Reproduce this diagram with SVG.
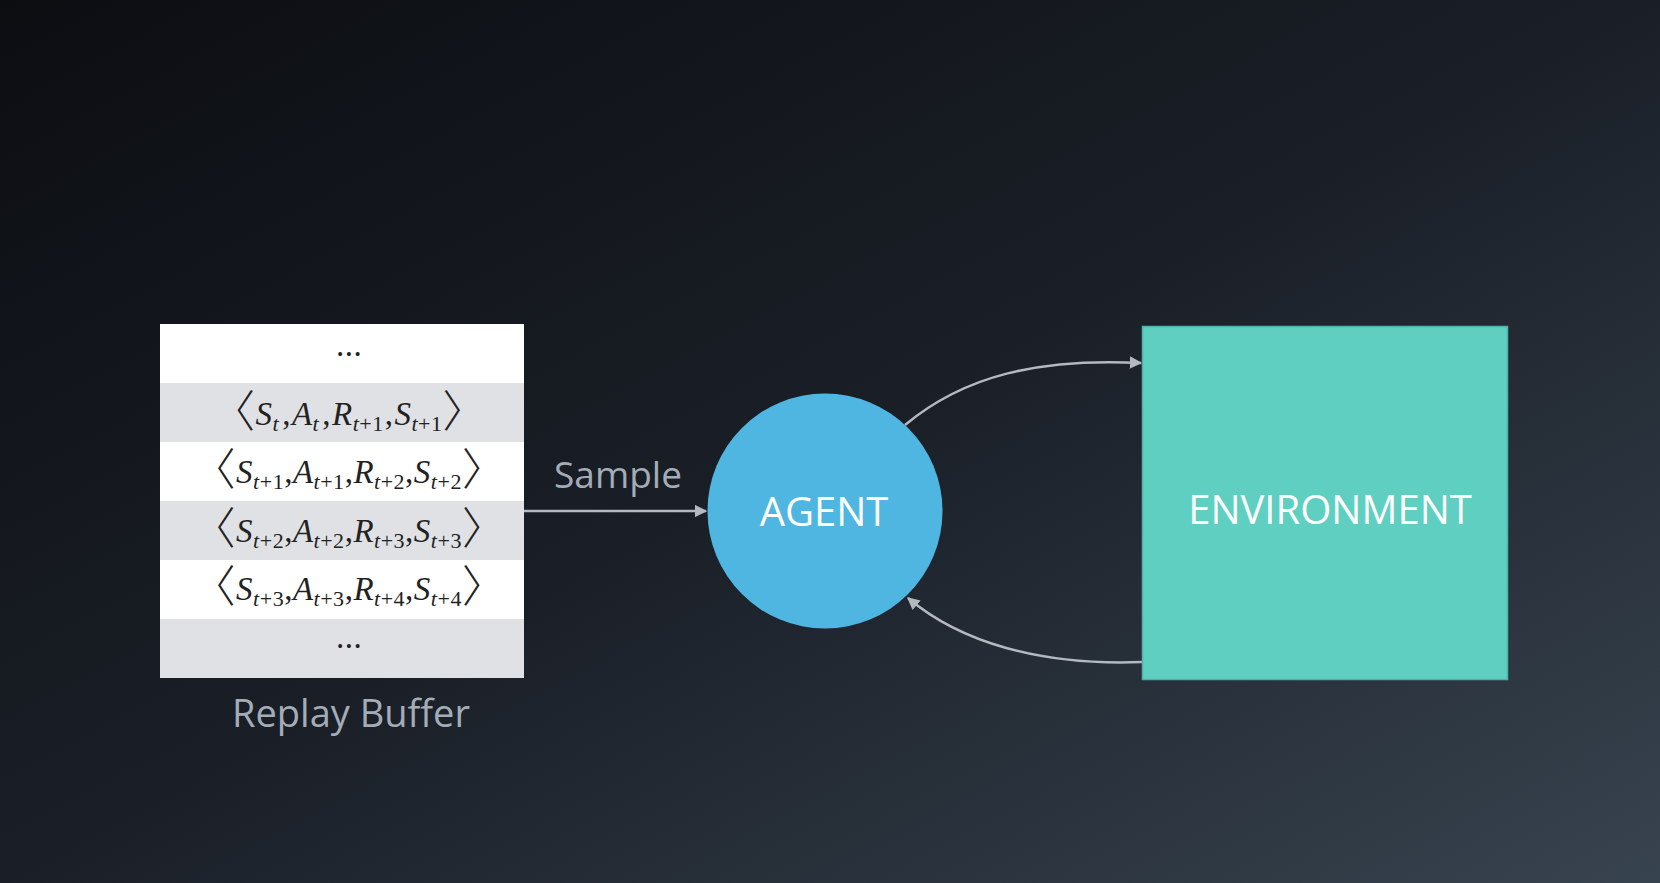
<svg xmlns="http://www.w3.org/2000/svg" width="1660" height="883" viewBox="0 0 1660 883">
<defs>
<linearGradient id="bg" x1="0" y1="0" x2="1" y2="1">
<stop offset="0" stop-color="#0b0d11"/>
<stop offset="0.5" stop-color="#1a1f27"/>
<stop offset="1" stop-color="#37434f"/>
</linearGradient>
<marker id="ah" viewBox="0 0 10 10" refX="9" refY="5" markerWidth="5" markerHeight="5" orient="auto" markerUnits="strokeWidth">
<path d="M0,0 L10,5 L0,10 z" fill="#b4b8bf"/>
</marker>
<style>
.lbl{font-family:"Open Sans","Liberation Sans",sans-serif;fill:#a3acb7}
.wt{font-family:"Open Sans","Liberation Sans",sans-serif;fill:#ffffff}
.m{font-family:"Liberation Serif","DejaVu Serif",serif;font-size:33px;fill:#222;letter-spacing:0.5px}
.bc{font-family:"Noto Sans CJK JP",sans-serif;font-weight:300;font-size:44px;fill:#222}
.i{font-style:italic}
.sub{font-size:22px}
.conn{fill:none;stroke:#b4b8bf;stroke-width:2.5}
</style>
</defs>
<rect width="1660" height="883" fill="url(#bg)"/>
<g id="replay-buffer">
<rect x="160" y="324" width="364" height="59" fill="#ffffff"/>
<rect x="160" y="383" width="364" height="59" fill="#dfe1e5"/>
<rect x="160" y="442" width="364" height="59" fill="#ffffff"/>
<rect x="160" y="501" width="364" height="59" fill="#dfe1e5"/>
<rect x="160" y="560" width="364" height="59" fill="#ffffff"/>
<rect x="160" y="619" width="364" height="59" fill="#dfe1e5"/>
<text class="m" x="349" y="356" text-anchor="middle">...</text>
<text class="m" x="349" y="425" text-anchor="middle"><tspan class="bc" dy="2">〈</tspan><tspan class="i" dy="-2">S</tspan><tspan class="sub i" dy="6">t</tspan><tspan dy="-6" dx="3">,</tspan><tspan class="i" dx="1">A</tspan><tspan class="sub i" dy="6">t</tspan><tspan dy="-6" dx="3">,</tspan><tspan class="i" dx="1">R</tspan><tspan class="sub" dy="6"><tspan class="i">t</tspan>+1</tspan><tspan dy="-6" dx="1">,</tspan><tspan class="i" dx="1">S</tspan><tspan class="sub" dy="6"><tspan class="i">t</tspan>+1</tspan><tspan class="bc" dy="-4">〉</tspan></text>
<text class="m" x="349" y="483" text-anchor="middle"><tspan class="bc" dy="2">〈</tspan><tspan class="i" dy="-2">S</tspan><tspan class="sub" dy="6"><tspan class="i">t</tspan>+1</tspan><tspan dy="-6">,</tspan><tspan class="i">A</tspan><tspan class="sub" dy="6"><tspan class="i">t</tspan>+1</tspan><tspan dy="-6">,</tspan><tspan class="i">R</tspan><tspan class="sub" dy="6"><tspan class="i">t</tspan>+2</tspan><tspan dy="-6">,</tspan><tspan class="i">S</tspan><tspan class="sub" dy="6"><tspan class="i">t</tspan>+2</tspan><tspan class="bc" dy="-4">〉</tspan></text>
<text class="m" x="349" y="542" text-anchor="middle"><tspan class="bc" dy="2">〈</tspan><tspan class="i" dy="-2">S</tspan><tspan class="sub" dy="6"><tspan class="i">t</tspan>+2</tspan><tspan dy="-6">,</tspan><tspan class="i">A</tspan><tspan class="sub" dy="6"><tspan class="i">t</tspan>+2</tspan><tspan dy="-6">,</tspan><tspan class="i">R</tspan><tspan class="sub" dy="6"><tspan class="i">t</tspan>+3</tspan><tspan dy="-6">,</tspan><tspan class="i">S</tspan><tspan class="sub" dy="6"><tspan class="i">t</tspan>+3</tspan><tspan class="bc" dy="-4">〉</tspan></text>
<text class="m" x="349" y="600" text-anchor="middle"><tspan class="bc" dy="2">〈</tspan><tspan class="i" dy="-2">S</tspan><tspan class="sub" dy="6"><tspan class="i">t</tspan>+3</tspan><tspan dy="-6">,</tspan><tspan class="i">A</tspan><tspan class="sub" dy="6"><tspan class="i">t</tspan>+3</tspan><tspan dy="-6">,</tspan><tspan class="i">R</tspan><tspan class="sub" dy="6"><tspan class="i">t</tspan>+4</tspan><tspan dy="-6">,</tspan><tspan class="i">S</tspan><tspan class="sub" dy="6"><tspan class="i">t</tspan>+4</tspan><tspan class="bc" dy="-4">〉</tspan></text>
<text class="m" x="349" y="648" text-anchor="middle">...</text>
<text class="lbl" x="351" y="727" font-size="38" text-anchor="middle">Replay Buffer</text>
</g>
<g id="connectors">
<path class="conn" d="M524,511 L706,511" marker-end="url(#ah)"/>
<path class="conn" d="M905,425 C965,375 1040,358 1141,363" marker-end="url(#ah)"/>
<path class="conn" d="M1142,662 C1040,666 960,642 908,598" marker-end="url(#ah)"/>
<text class="lbl" x="618" y="488" font-size="37" text-anchor="middle">Sample</text>
</g>
<g id="agent">
<circle cx="825" cy="511" r="117.5" fill="#4fb6e1"/>
<text class="wt" x="824" y="526" font-size="40" text-anchor="middle">AGENT</text>
</g>
<g id="environment">
<rect x="1142.5" y="326.5" width="365" height="353" fill="#5ecfc0" stroke="#4ab5a8" stroke-width="1.5"/>
<text class="wt" x="1330" y="524" font-size="40" text-anchor="middle">ENVIRONMENT</text>
</g>
</svg>
